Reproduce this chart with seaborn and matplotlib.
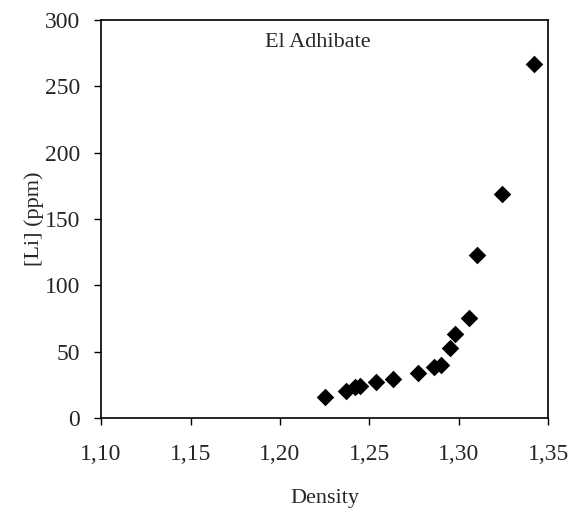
import seaborn as sns
import matplotlib.pyplot as plt
import pandas as pd
from matplotlib.ticker import FuncFormatter

density = [1.225, 1.237, 1.242, 1.245, 1.254, 1.263, 1.277, 1.286, 1.290,
           1.295, 1.298, 1.306, 1.310, 1.324, 1.342]
li_ppm = [16, 20, 23, 24, 27, 29, 34, 38, 40, 53, 63, 75, 123, 169, 267]
x_ticks = [1.10, 1.15, 1.20, 1.25, 1.30, 1.35]
y_ticks = [0, 50, 100, 150, 200, 250, 300]
site = 'El Adhibate'

df = pd.DataFrame({'Density': density, 'Li': li_ppm})

sns.set_style('ticks')
plt.rcParams['font.family'] = ['Liberation Serif', 'DejaVu Serif']

fig = plt.figure(figsize=(5.68, 5.09), dpi=100)
ax = fig.add_axes([0.178, 0.179, 0.787, 0.782])
sns.scatterplot(data=df, x='Density', y='Li', marker='D', s=80, color='black',
                edgecolor='black', linewidth=0, ax=ax)

ax.set_xlim(1.10, 1.35)
ax.set_ylim(0, 300)
ax.set_xticks(x_ticks)
ax.set_yticks(y_ticks)
ax.xaxis.set_major_formatter(FuncFormatter(lambda v, p: f'{v:.2f}'.replace('.', ',')))
ax.tick_params(labelsize=17, direction='out', length=5, width=1, color='black')
ax.tick_params(axis='x', pad=14)
ax.tick_params(axis='y', pad=10)
for s in ax.spines.values():
    s.set_visible(True)
    s.set_color('black')
    s.set_linewidth(1.2)

ax.set_xlabel('Density', fontsize=16, labelpad=17)
ax.set_ylabel('[Li] (ppm)', fontsize=16, labelpad=1)
ax.text(1.2214, 283, site, fontsize=16, ha='center', va='center')

fig.savefig('out.png', dpi=100)
